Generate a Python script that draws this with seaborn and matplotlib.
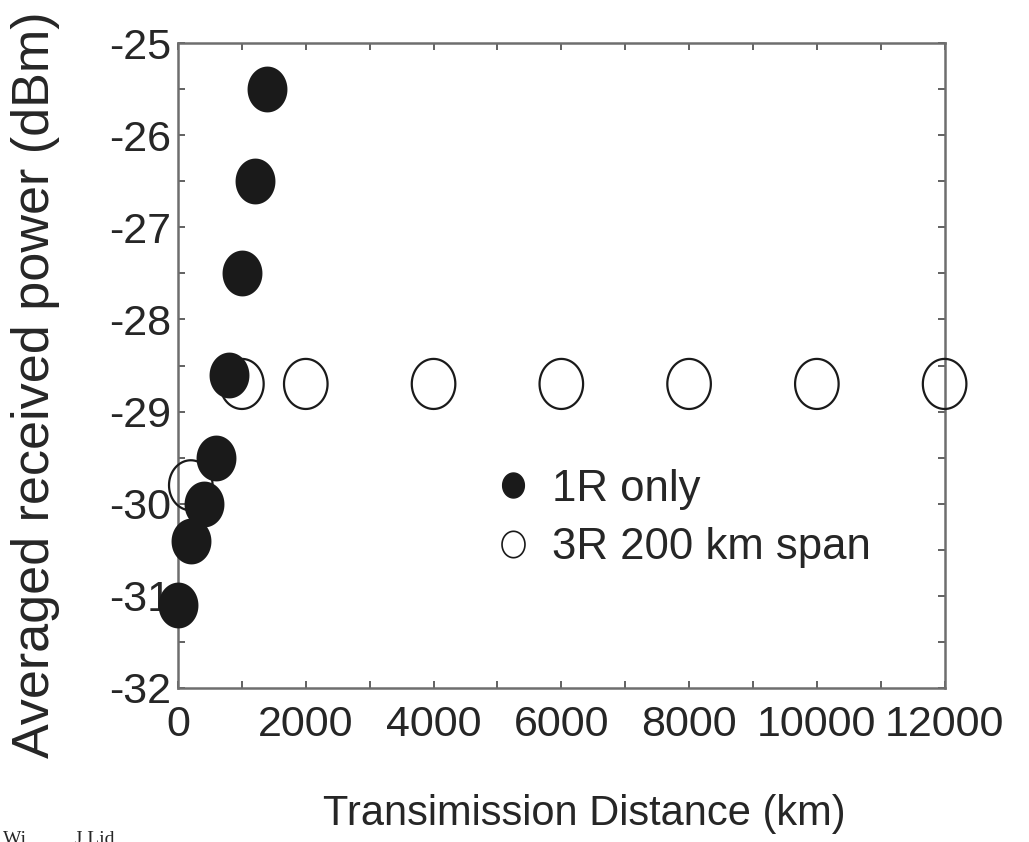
import numpy as np
import matplotlib
matplotlib.use("Agg")
import matplotlib.pyplot as plt
from matplotlib.path import Path
from matplotlib.lines import Line2D
import seaborn as sns

# 1R only (filled)
dist_1r = [0, 200, 400, 600, 800, 1000, 1200, 1400]
power_1r = [-31.1, -30.4, -30.0, -29.5, -28.6, -27.5, -26.5, -25.5]

# 3R 200 km span (open)
dist_3r = [200, 1000, 2000, 4000, 6000, 8000, 10000, 12000]
power_3r = [-29.8, -28.7, -28.7, -28.7, -28.7, -28.7, -28.7, -28.7]

labels = ["1R only", "3R 200 km span"]
x_ticks = [0, 2000, 4000, 6000, 8000, 10000, 12000]
y_ticks = [-32, -31, -30, -29, -28, -27, -26, -25]

sns.set_style("ticks")
plt.rcParams['font.family'] = ['Liberation Sans', 'DejaVu Sans']

fig = plt.figure(figsize=(10.29, 8.42), dpi=100)
ax = fig.add_axes([0.173, 0.1829, 0.745, 0.766])

# slightly tall ellipse, like the scanned markers
t = np.linspace(0, 2 * np.pi, 73)
ell = Path(np.column_stack([0.87 * np.cos(t), np.sin(t)]), closed=True)

sns.scatterplot(x=dist_3r, y=power_3r, marker=ell, s=1300, facecolor='none',
                edgecolor='#1a1a1a', linewidth=1.6, ax=ax, clip_on=False, zorder=3)
sns.scatterplot(x=dist_1r, y=power_1r, marker=ell, s=1090, color='#1a1a1a',
                edgecolor='#1a1a1a', linewidth=0, ax=ax, clip_on=False, zorder=4)

ax.set_xlim(0, 12000)
ax.set_ylim(-32, -25)
ax.set_xticks(x_ticks)
ax.set_xticks(np.arange(1000, 12000, 2000), minor=True)
ax.set_yticks(y_ticks)
ax.set_yticks(np.arange(-31.5, -25, 1.0), minor=True)
ax.set_xticklabels([str(v) for v in x_ticks], fontsize=31)
ax.set_yticklabels([str(v) for v in y_ticks], fontsize=31)

ax.tick_params(which='both', direction='in', length=5, width=1.3, color='#555555',
               top=True, right=True)
ax.tick_params(axis='x', pad=12)
ax.tick_params(axis='y', pad=5)

for side in ['left', 'right', 'top', 'bottom']:
    ax.spines[side].set_visible(True)
    ax.spines[side].set_color('#6e6e6e')
    ax.spines[side].set_linewidth(1.8)

ax.set_xlabel('Transimission Distance (km)', fontsize=30)
ax.set_ylabel('Averaged received power (dBm)', fontsize=37.5)
ax.xaxis.set_label_coords(0.53, -0.165)
ax.yaxis.set_label_coords(-0.154, 0.47)

handles = [
    Line2D([], [], linestyle='none', marker=ell, markersize=18,
           markerfacecolor='#1a1a1a', markeredgecolor='#1a1a1a'),
    Line2D([], [], linestyle='none', marker=ell, markersize=19,
           markerfacecolor='none', markeredgecolor='#1a1a1a', markeredgewidth=1.2),
]
ax.legend(handles, labels, loc='upper left', bbox_to_anchor=(0.408, 0.34),
          frameon=False, fontsize=31.5, borderpad=0, borderaxespad=0,
          handlelength=1.0, handletextpad=0.39, labelspacing=0.4)

fig.text(0.003, -0.002, 'Wi          J Lid', family='Liberation Serif',
         fontsize=14, va='baseline')

fig.savefig('out.png', dpi=100)
